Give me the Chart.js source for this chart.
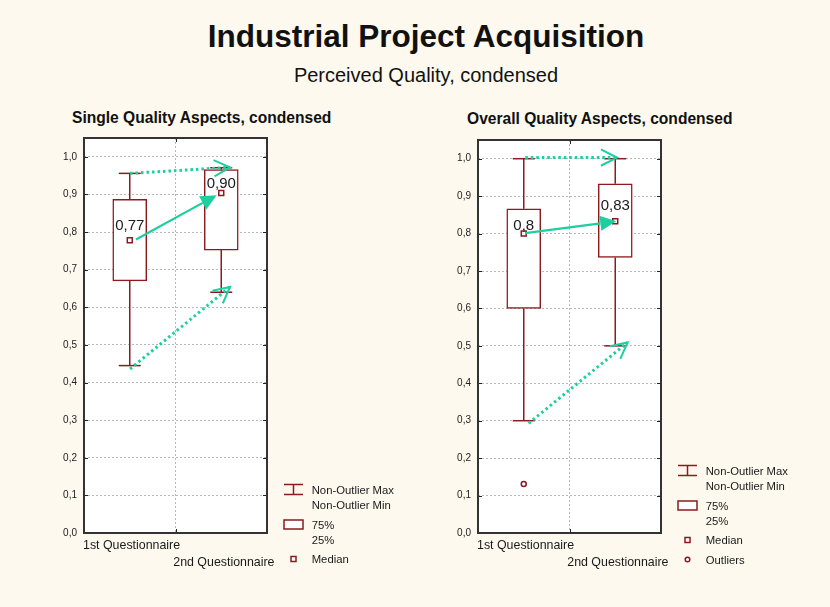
<!DOCTYPE html>
<html><head><meta charset="utf-8">
<script src="https://cdn.jsdelivr.net/npm/chart.js@4.4.0/dist/chart.umd.min.js"></script>
<style>
html,body{margin:0;padding:0;background:#fdf9ee;}
#wrap{position:relative;width:830px;height:607px;background:#fdf9ee;overflow:hidden;font-family:"Liberation Sans",Arial,sans-serif;color:#111;}
.t{position:absolute;white-space:nowrap;}
canvas{position:absolute;top:0;}
</style></head><body>
<div id="wrap">
<div class="t" style="left:11px;width:830px;text-align:center;top:21px;font-size:31.5px;line-height:31.5px;font-weight:bold;">Industrial Project Acquisition</div>
<div class="t" style="left:11px;width:830px;text-align:center;top:65px;font-size:20px;line-height:20px;">Perceived Quality, condensed</div>
<div class="t" style="left:72px;top:110px;font-size:15.6px;line-height:16px;font-weight:bold;">Single Quality Aspects, condensed</div>
<div class="t" style="left:467px;top:111px;font-size:15.6px;line-height:16px;font-weight:bold;">Overall Quality Aspects, condensed</div>
<canvas id="c1" width="415" height="607" style="left:0px"></canvas>
<canvas id="c2" width="415" height="607" style="left:415px"></canvas>
</div>
<script>
// ---------- data ----------
const categories = ['1st Questionnaire', '2nd Questionnaire'];
const yTickValues = [0, 0.1, 0.2, 0.3, 0.4, 0.5, 0.6, 0.7, 0.8, 0.9, 1.0];
const yTickLabels = ['0,0', '0,1', '0,2', '0,3', '0,4', '0,5', '0,6', '0,7', '0,8', '0,9', '1,0'];
const legendLabels = ['Non-Outlier Max', 'Non-Outlier Min', '75%', '25%', 'Median', 'Outliers'];

const singleMin = [0.445, 0.640];
const singleQ1 = [0.670, 0.752];
const singleMedian = [0.778, 0.904];
const singleQ3 = [0.887, 0.966];
const singleMax = [0.956, 0.971];
const singleOutliers = [[], []];
const singleMedianLabels = ['0,77', '0,90'];
// arrows (in axis units): [x1, y1, x2, y2]
const singleArrowsSolid = [[0.568, 0.780, 1.450, 0.898]];
const singleArrowsDotted = [[0.503, 0.956, 1.596, 0.972], [0.503, 0.436, 1.596, 0.654]];

const overallMin = [0.300, 0.500];
const overallQ1 = [0.600, 0.736];
const overallMedian = [0.800, 0.833];
const overallQ3 = [0.866, 0.933];
const overallMax = [1.000, 1.000];
const overallOutliers = [[0.131], []];
const overallMedianLabels = ['0,8', '0,83'];
const overallArrowsSolid = [[0.517, 0.801, 1.511, 0.833]];
const overallArrowsDotted = [[0.517, 1.003, 1.519, 1.003], [0.553, 0.293, 1.635, 0.509]];

// ---------- styling ----------
const RED = '#8c1a1e';
const TEAL = '#1dcf9e';
const FONT = '"Liberation Sans", Arial, sans-serif';

function line(ctx, x1, y1, x2, y2) { ctx.beginPath(); ctx.moveTo(x1, y1); ctx.lineTo(x2, y2); ctx.stroke(); }
function text(ctx, s, x, yc, size, align, bold) {
  ctx.font = (bold ? 'bold ' : '') + size + 'px ' + FONT;
  ctx.textAlign = align; ctx.textBaseline = 'alphabetic';
  ctx.fillText(s, x, yc + size * 0.358);
}
function drawArrow(ctx, x1, y1, x2, y2, dotted) {
  const ang = Math.atan2(y2 - y1, x2 - x1);
  ctx.save();
  ctx.strokeStyle = TEAL; ctx.fillStyle = TEAL;
  if (dotted) {
    ctx.lineWidth = 3; ctx.setLineDash([2.5, 3]); ctx.lineCap = 'butt';
    line(ctx, x1, y1, x2, y2);
    ctx.setLineDash([]); ctx.lineWidth = 2;
    const L = 18, h = 0.47;
    ctx.beginPath();
    ctx.moveTo(x2 - L * Math.cos(ang - h), y2 - L * Math.sin(ang - h));
    ctx.lineTo(x2, y2);
    ctx.lineTo(x2 - L * Math.cos(ang + h), y2 - L * Math.sin(ang + h));
    ctx.stroke();
  } else {
    const L = 16, w = 7.5;
    ctx.lineWidth = 2.2;
    const bx = x2 - L * Math.cos(ang), by = y2 - L * Math.sin(ang);
    line(ctx, x1, y1, bx, by);
    ctx.beginPath();
    ctx.moveTo(x2, y2);
    ctx.lineTo(bx + w * Math.sin(ang), by - w * Math.cos(ang));
    ctx.lineTo(bx - w * Math.sin(ang), by + w * Math.cos(ang));
    ctx.closePath(); ctx.fill();
  }
  ctx.restore();
}

function makePanel(id, d, cfg) {
  const plugin = {
    id: 'panel_' + id,
    beforeDraw(chart) {
      const { ctx, chartArea: a } = chart;
      ctx.save(); ctx.fillStyle = '#ffffff';
      ctx.fillRect(a.left, a.top, a.right - a.left, a.bottom - a.top);
      ctx.restore();
    },
    beforeDatasetsDraw(chart) {
      const { ctx } = chart; const xs = chart.scales.x, ys = chart.scales.y;
      ctx.save(); ctx.strokeStyle = RED; ctx.lineWidth = 1.5;
      categories.forEach((c, i) => {
        const cx = xs.getPixelForValue(i + 0.5);
        const pMax = ys.getPixelForValue(d.max[i]), pQ3 = ys.getPixelForValue(d.q3[i]);
        const pMin = ys.getPixelForValue(d.min[i]), pQ1 = ys.getPixelForValue(d.q1[i]);
        line(ctx, cx, pQ3, cx, pMax); line(ctx, cx - 11, pMax, cx + 11, pMax);
        line(ctx, cx, pQ1, cx, pMin); line(ctx, cx - 11, pMin, cx + 11, pMin);
      });
      ctx.restore();
    },
    afterDatasetsDraw(chart) {
      const { ctx, chartArea: a } = chart; const xs = chart.scales.x, ys = chart.scales.y;
      ctx.save();
      // median labels
      ctx.fillStyle = '#1a1a1a';
      categories.forEach((c, i) => {
        text(ctx, d.labels[i], xs.getPixelForValue(i + 0.5), ys.getPixelForValue(d.med[i]) - cfg.labelOffsets[i], 15, 'center');
      });
      // arrows
      d.solid.forEach(r => drawArrow(ctx, xs.getPixelForValue(r[0]), ys.getPixelForValue(r[1]), xs.getPixelForValue(r[2]), ys.getPixelForValue(r[3]), false));
      d.dotted.forEach(r => drawArrow(ctx, xs.getPixelForValue(r[0]), ys.getPixelForValue(r[1]), xs.getPixelForValue(r[2]), ys.getPixelForValue(r[3]), true));
      // frame + inner ticks
      ctx.strokeStyle = '#222'; ctx.lineWidth = 1;
      yTickValues.forEach(v => {
        const y = Math.round(ys.getPixelForValue(v)) + 0.5;
        line(ctx, a.left, y, a.left + 4, y); line(ctx, a.right - 4, y, a.right, y);
      });
      const mx = Math.round(xs.getPixelForValue(1)) + 0.5;
      line(ctx, mx, a.bottom, mx, a.bottom - 4); line(ctx, mx, a.top, mx, a.top + 4);
      ctx.strokeStyle = '#333'; ctx.lineWidth = 2;
      ctx.strokeRect(a.left, a.top, a.right - a.left, a.bottom - a.top);
      // category labels
      ctx.fillStyle = '#1a1a1a';
      text(ctx, categories[0], a.left - 1, a.bottom + 12, 12.4, 'left');
      text(ctx, categories[1], a.right + 7.5, a.bottom + 28.5, 12.4, 'right');
      // legend
      const sx = a.right + 17, sw = 19, tx = a.right + 44.7, y0 = cfg.legendY;
      ctx.strokeStyle = RED; ctx.lineWidth = 1.5;
      line(ctx, sx, y0 - 5, sx + sw, y0 - 5); line(ctx, sx, y0 + 5, sx + sw, y0 + 5); line(ctx, sx + sw / 2, y0 - 5, sx + sw / 2, y0 + 5);
      text(ctx, legendLabels[0], tx, y0, 11.3, 'left');
      text(ctx, legendLabels[1], tx, y0 + 15, 11.3, 'left');
      ctx.fillStyle = '#fff'; ctx.fillRect(sx, y0 + 30.5, sw, 9); ctx.strokeRect(sx, y0 + 30.5, sw, 9);
      ctx.fillStyle = '#1a1a1a';
      text(ctx, legendLabels[2], tx, y0 + 35, 11.3, 'left');
      text(ctx, legendLabels[3], tx, y0 + 50, 11.3, 'left');
      ctx.fillStyle = '#fff'; ctx.fillRect(sx + sw / 2 - 2.5, y0 + 67, 5, 5); ctx.strokeRect(sx + sw / 2 - 2.5, y0 + 67, 5, 5);
      ctx.fillStyle = '#1a1a1a';
      text(ctx, legendLabels[4], tx, y0 + 69.5, 11.3, 'left');
      if (cfg.showOutliers) {
        ctx.beginPath(); ctx.arc(sx + sw / 2, y0 + 89, 2.3, 0, Math.PI * 2);
        ctx.fillStyle = '#fff'; ctx.fill(); ctx.stroke();
        ctx.fillStyle = '#1a1a1a';
        text(ctx, legendLabels[5], tx, y0 + 89, 11.3, 'left');
      }
      ctx.restore();
    }
  };

  const outlierPts = [];
  d.outliers.forEach((arr, i) => arr.forEach(v => outlierPts.push({ x: i + 0.5, y: v })));

  const gridCfg = { color: '#b8b8b8', lineWidth: 1, drawTicks: false, offset: false };
  return new Chart(document.getElementById(id), {
    type: 'bar',
    data: {
      datasets: [
        { type: 'bar', order: 3, data: categories.map((c, i) => ({ x: i + 0.5, y: [d.q1[i], d.q3[i]] })),
          backgroundColor: '#ffffff', borderColor: RED, borderWidth: 1.5, borderSkipped: false, barThickness: 34 },
        { type: 'scatter', order: 1, data: categories.map((c, i) => ({ x: i + 0.5, y: d.med[i] })),
          pointStyle: 'rect', pointRadius: 3.5, pointBackgroundColor: '#ffffff', pointBorderColor: RED, pointBorderWidth: 1.5 },
        { type: 'scatter', order: 2, data: outlierPts,
          pointStyle: 'circle', pointRadius: 2.5, pointBackgroundColor: '#ffffff', pointBorderColor: RED, pointBorderWidth: 1.5 }
      ]
    },
    options: {
      responsive: false, animation: false, devicePixelRatio: 1,
      layout: { padding: cfg.padding },
      plugins: { legend: { display: false }, tooltip: { enabled: false }, title: { display: false } },
      scales: {
        x: { type: 'linear', min: 0, max: 2, offset: false,
             ticks: { display: false, stepSize: 1 }, grid: gridCfg, border: { display: false, dash: [2, 2] },
             afterFit: s => { s.height = 0; } },
        y: { type: 'linear', min: 0, max: 1.05,
             afterBuildTicks: s => { s.ticks = yTickValues.map(v => ({ value: v })); },
             ticks: { callback: (v, i) => yTickLabels[i], font: { family: FONT, size: 10 }, color: '#222', padding: 7 },
             grid: gridCfg, border: { display: false, dash: [2, 2] },
             afterFit: s => { s.width = 44; } }
      }
    },
    plugins: [plugin]
  });
}

makePanel('c1', {
  min: singleMin, q1: singleQ1, med: singleMedian, q3: singleQ3, max: singleMax,
  outliers: singleOutliers, labels: singleMedianLabels, solid: singleArrowsSolid, dotted: singleArrowsDotted
}, { padding: { left: 40, right: 148, top: 138, bottom: 74 }, labelOffsets: [15.7, 10], legendY: 489.5, showOutliers: false });

makePanel('c2', {
  min: overallMin, q1: overallQ1, med: overallMedian, q3: overallQ3, max: overallMax,
  outliers: overallOutliers, labels: overallMedianLabels, solid: overallArrowsSolid, dotted: overallArrowsDotted
}, { padding: { left: 19, right: 169, top: 140, bottom: 74 }, labelOffsets: [8.7, 16.4], legendY: 470.5, showOutliers: true });
</script>
</body></html>
